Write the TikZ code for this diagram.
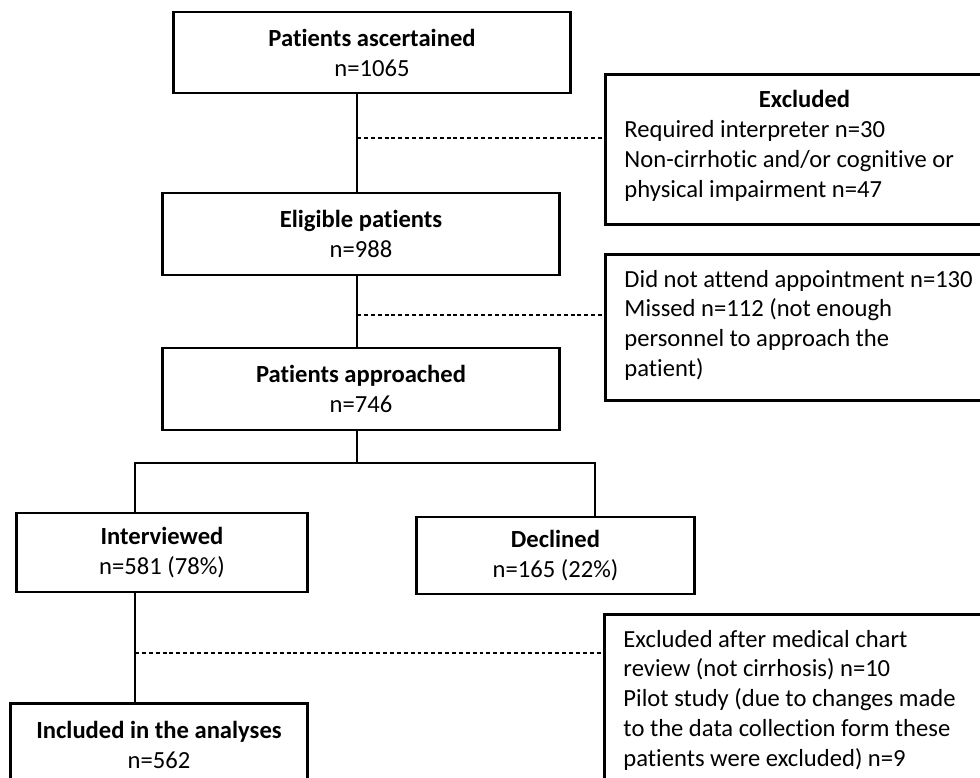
\documentclass[tikz,border=0pt]{standalone}
\usepackage{fontspec}
\setmainfont{Carlito}[Ligatures=NoCommon]
\usetikzlibrary{positioning,calc}
\newcommand{\dropstrut}[1]{\rule[-#1]{0pt}{#1}}

\begin{document}
\begin{tikzpicture}[x=0.025cm, y=-0.025cm,
  box/.style={rectangle, draw, line width=2.1pt, fill=white, inner sep=0pt,
              font=\fontsize{17.5}{21.3}\selectfont, align=center},
  note/.style={box, anchor=north west, align=flush left, text width=9cm,
               inner xsep=0.475cm, inner ysep=11pt},
  link/.style={line width=0.75pt},
  gap/.style={line width=0.75pt, dash pattern=on 2.8pt off 2.1pt}
]
\useasboundingbox (0,0) rectangle (980,777);

% main column
\node[box, minimum width=9.9cm, minimum height=2.025cm] (asc)  at (372,52.5)
  {\textbf{Patients ascertained}\\n=1065};
\node[box, minimum width=9.9cm, minimum height=2.05cm]  (elig) at (361,234)
  {\textbf{Eligible patients}\\n=988};
\node[box, minimum width=9.9cm, minimum height=2.05cm]  (appr) at (361,389)
  {\textbf{Patients approached}\\n=746};
\node[box, minimum width=7.25cm, minimum height=1.975cm] (intv) at (162,552.5)
  {\textbf{Interviewed}\\n=581 (78\%)};
\node[box, minimum width=6.925cm, minimum height=1.925cm] (decl) at (555.5,555.5)
  {\textbf{Declined}\\n=165 (22\%)};
\node[box, anchor=north, minimum width=7.4cm, minimum height=2.05cm] (incl) at (159,702)
  {\textbf{Included in the analyses}\\n=562};

% exclusion boxes
\node[note] (exc1) at (604,73)
  {\makebox[\linewidth]{\textbf{Excluded}}\\Required interpreter n=30\\
   Non-cirrhotic and/or cognitive or\\physical impairment n=47\dropstrut{8.8pt}};
\node[note] (exc2) at (604,253)
  {Did not attend appointment n=130\\Missed n=112 (not enough\\
   personnel to approach the\\patient)\dropstrut{5.5pt}};
\node[note] (exc3) at (603,613)
  {Excluded after medical chart\\review (not cirrhosis) n=10\\
   Pilot study (due to changes made\\to the data collection form these\\
   patients were excluded) n=9};

% connectors
\coordinate (trunk)   at (357,0);
\coordinate (branchL) at (135,463);
\coordinate (branchR) at (595,463);
\coordinate (cut1) at (357,138);
\coordinate (cut2) at (357,315);
\coordinate (cut3) at (135,653);

\draw[link] (asc.south -| trunk) -- (elig.north -| trunk);
\draw[link] (elig.south -| trunk) -- (appr.north -| trunk);
\draw[link] (appr.south -| trunk) -- (trunk |- branchL);
\draw[link] (intv.north -| branchL) -- (branchL) -- (branchR) -- (decl.north -| branchR);
\draw[link] (intv.south -| branchL) -- (incl.north -| branchL);

\draw[gap] (cut1) -- (cut1 -| exc1.west);
\draw[gap] (cut2) -- (cut2 -| exc2.west);
\draw[gap] (cut3) -- (cut3 -| exc3.west);
\end{tikzpicture}
\end{document}
